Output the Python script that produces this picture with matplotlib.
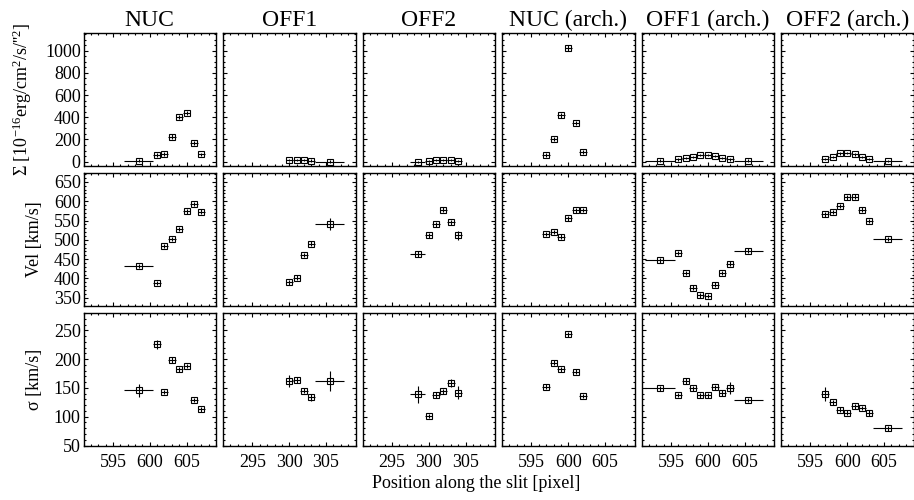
import matplotlib
matplotlib.use("Agg")
import matplotlib.pyplot as plt
from matplotlib.ticker import MultipleLocator

plt.rcParams['font.family'] = ['Liberation Serif', 'DejaVu Serif']
plt.rcParams['mathtext.fontset'] = 'custom'
plt.rcParams['mathtext.rm'] = 'Liberation Serif'
plt.rcParams['mathtext.it'] = 'Liberation Serif:italic'
plt.rcParams['mathtext.bf'] = 'Liberation Serif:bold'

# ---------------- data ----------------
titles = ["NUC", "OFF1", "OFF2", "NUC (arch.)", "OFF1 (arch.)", "OFF2 (arch.)"]
row_labels = [r"Σ [10$^{-16}$erg/cm$^{2}$/s/''$^{2}$]", "Vel [km/s]", "σ [km/s]"]
xlims = [(591, 609), (291, 309), (291, 309), (591, 609), (591, 609), (591, 609)]
ylims = [(-35, 1160), (330, 673), (50, 280)]
xtick_major = 5
ytick_major = [200, 50, 50]
ytick_minor = [50, 10, 10]

# NUC
x_nuc = [598.5, 601, 602, 603, 604, 605, 606, 607]
xerr_nuc = [2, .5, .5, .5, .5, .5, .5, .5]
sb_nuc = [10, 60, 70, 225, 400, 440, 170, 65]
sb_nuc_err = [15, 15, 15, 20, 20, 20, 20, 15]
vel_nuc = [432, 388, 484, 502, 528, 574, 593, 573]
vel_nuc_err = [6, 6, 6, 6, 6, 6, 6, 6]
sig_nuc = [146, 226, 143, 198, 182, 188, 129, 113]
sig_nuc_err = [11, 8, 4, 5, 4, 4, 4, 4]

# OFF1
x_off1 = [300, 301, 302, 303, 305.5]
xerr_off1 = [.5, .5, .5, .5, 2]
sb_off1 = [15, 18, 15, 10, 0]
sb_off1_err = [10, 10, 10, 10, 15]
vel_off1 = [390, 402, 461, 490, 541]
vel_off1_err = [6, 6, 6, 6, 16]
sig_off1 = [162, 164, 145, 134, 162]
sig_off1_err = [10, 5, 4, 6, 18]

# OFF2
x_off2 = [298.5, 300, 301, 302, 303, 304]
xerr_off2 = [1, .5, .5, .5, .5, .5]
sb_off2 = [0, 8, 15, 15, 12, 8]
sb_off2_err = [10, 10, 10, 10, 10, 10]
vel_off2 = [464, 512, 540, 578, 545, 512]
vel_off2_err = [8, 6, 6, 6, 6, 12]
sig_off2 = [139, 101, 138, 144, 158, 142]
sig_off2_err = [15, 4, 5, 4, 7, 12]

# NUC (arch.)
x_nuca = [597, 598, 599, 600, 601, 602]
xerr_nuca = [.5, .5, .5, .5, .5, .5]
sb_nuca = [59, 206, 417, 1026, 346, 85]
sb_nuca_err = [20, 20, 20, 25, 20, 20]
vel_nuca = [515, 520, 508, 556, 576, 577]
vel_nuca_err = [6, 6, 6, 6, 6, 6]
sig_nuca = [152, 194, 182, 243, 178, 136]
sig_nuca_err = [4, 5, 4, 4, 4, 4]

# OFF1 (arch.)
x_off1a = [593.5, 596, 597, 598, 599, 600, 601, 602, 603, 605.5]
xerr_off1a = [2, .5, .5, .5, .5, .5, .5, .5, .5, 2]
sb_off1a = [10, 20, 35, 45, 58, 62, 50, 30, 20, 10]
sb_off1a_err = [10, 10, 10, 10, 10, 10, 10, 10, 10, 10]
vel_off1a = [447, 466, 414, 376, 356, 355, 384, 414, 438, 472]
vel_off1a_err = [6, 6, 6, 6, 6, 6, 6, 6, 6, 6]
sig_off1a = [149, 138, 162, 149, 137, 137, 151, 141, 150, 129]
sig_off1a_err = [5, 4, 5, 4, 4, 4, 4, 5, 11, 4]

# OFF2 (arch.)
x_off2a = [597, 598, 599, 600, 601, 602, 603, 605.5]
xerr_off2a = [.5, .5, .5, .5, .5, .5, .5, 2]
sb_off2a = [23, 45, 74, 80, 65, 41, 21, 5]
sb_off2a_err = [10, 10, 10, 10, 10, 10, 10, 10]
vel_off2a = [566, 572, 588, 610, 612, 578, 549, 502]
vel_off2a_err = [6, 6, 6, 6, 6, 6, 6, 6]
sig_off2a = [139, 125, 112, 107, 118, 115, 107, 80]
sig_off2a_err = [12, 4, 4, 4, 4, 4, 5, 4]

columns = [
    (x_nuc, xerr_nuc, [(sb_nuc, sb_nuc_err), (vel_nuc, vel_nuc_err), (sig_nuc, sig_nuc_err)]),
    (x_off1, xerr_off1, [(sb_off1, sb_off1_err), (vel_off1, vel_off1_err), (sig_off1, sig_off1_err)]),
    (x_off2, xerr_off2, [(sb_off2, sb_off2_err), (vel_off2, vel_off2_err), (sig_off2, sig_off2_err)]),
    (x_nuca, xerr_nuca, [(sb_nuca, sb_nuca_err), (vel_nuca, vel_nuca_err), (sig_nuca, sig_nuca_err)]),
    (x_off1a, xerr_off1a, [(sb_off1a, sb_off1a_err), (vel_off1a, vel_off1a_err), (sig_off1a, sig_off1a_err)]),
    (x_off2a, xerr_off2a, [(sb_off2a, sb_off2a_err), (vel_off2a, vel_off2a_err), (sig_off2a, sig_off2a_err)]),
]

# ---------------- layout ----------------
W, H = 914, 500
fig = plt.figure(figsize=(W / 100, H / 100), dpi=100)
left0, col_step, aw = 83.5, 139.5, 132.5
top0, row_step, ah = 33, 140, 132.5

for c, (xs, xe, rows) in enumerate(columns):
    for r, (ys, ye) in enumerate(rows):
        l = left0 + c * col_step
        t = top0 + r * row_step
        ax = fig.add_axes([l / W, 1 - (t + ah) / H, aw / W, ah / H])
        ax.errorbar(xs, ys, xerr=xe, yerr=ye, fmt='s', ms=4.2, mfc='none',
                    mec='black', mew=0.8, ecolor='black', elinewidth=0.8,
                    capsize=0, color='black')
        ax.set_xlim(*xlims[c])
        ax.set_ylim(*ylims[r])
        ax.xaxis.set_major_locator(MultipleLocator(xtick_major))
        ax.xaxis.set_minor_locator(MultipleLocator(1))
        ax.yaxis.set_major_locator(MultipleLocator(ytick_major[r]))
        ax.yaxis.set_minor_locator(MultipleLocator(ytick_minor[r]))
        ax.tick_params(which='both', direction='in', top=True, right=True,
                       labelsize=13, width=0.8)
        ax.tick_params(which='major', length=3.2)
        ax.tick_params(which='minor', length=1.6)
        ax.tick_params(axis='x', pad=6)
        ax.tick_params(axis='y', pad=2)
        for s in ax.spines.values():
            s.set_linewidth(1.0)
        if r != 2:
            ax.set_xticklabels([])
        if c != 0:
            ax.set_yticklabels([])
        else:
            ax.set_ylabel(row_labels[r], fontsize=13, labelpad=8)
        if r == 0:
            ax.set_title(titles[c], fontsize=17, pad=5)

fig.text(476 / W, 1 - 484 / H, "Position along the slit [pixel]",
         ha='center', va='center', fontsize=13)

fig.savefig("out.png", dpi=100, facecolor='white')
